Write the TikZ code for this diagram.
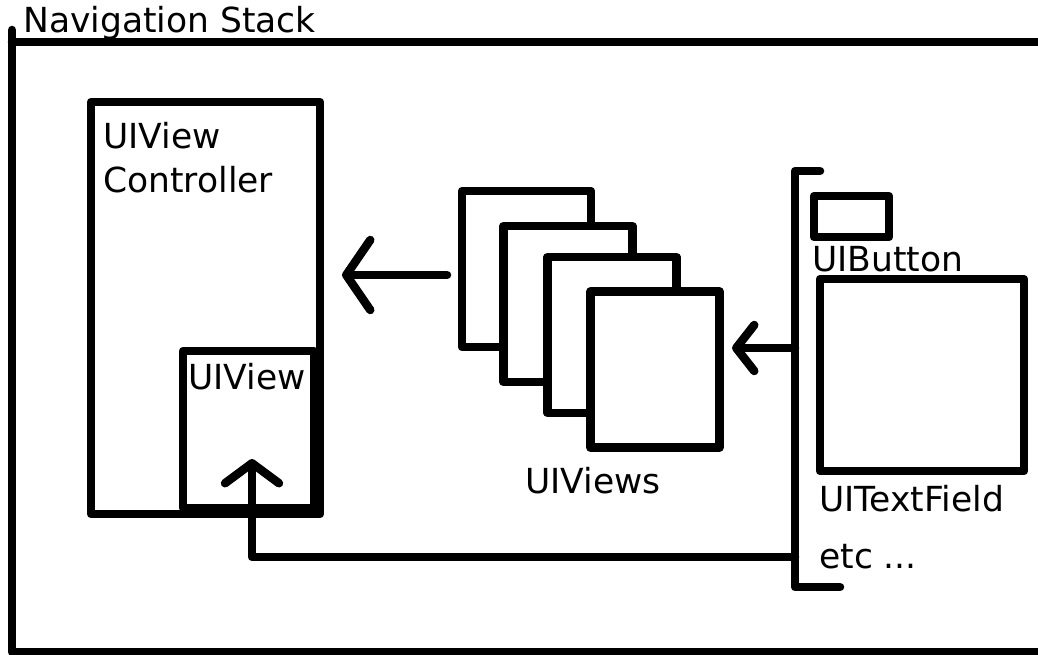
\documentclass[tikz,border=0pt]{standalone}
\usepackage{fontspec}
\setmainfont{DejaVu Sans}
\usetikzlibrary{arrows.meta}
\begin{document}
\begin{tikzpicture}[x=1pt,y=-1pt,line width=8.5pt,line cap=round,line join=round,
  box/.style={draw,fill=white,line width=8.5pt,rectangle,inner sep=0pt,outer sep=0pt},
  vbox/.style={box,minimum width=129pt,minimum height=156pt},
  lbl/.style={font=\fontsize{34.5}{38}\selectfont,inner sep=0pt,anchor=base west},
  bigtip/.style={-{Straight Barb[length=24pt,width=70pt,round]}},
  midtip/.style={-{Straight Barb[length=20pt,width=54pt,round]}},
  smalltip/.style={-{Straight Barb[length=18pt,width=46pt,round]}}]
\clip (0,0) rectangle (1038,655);
\fill[white] (0,0) rectangle (1038,655);
% outer frame
\draw (1050,42) -- (12,42);
\draw (12,30) -- (12,652) -- (1050,652);
\node[lbl] (title) at (19,33) {Navigation Stack};
% controller
\node[box,minimum width=229pt,minimum height=412pt] (ctrl) at (205.5,308) {};
\node[box,minimum width=131pt,minimum height=157pt] (inner) at (248.5,429.5) {};
\node[lbl] (ctrlA) at (99,149) {UIView};
\node[lbl] (ctrlB) at (99,193) {Controller};
\node[lbl] (innerl) at (184,389) {UIView};
% stack of views
\node[vbox] (v1) at (526.5,269) {};
\node[vbox] (v2) at (568,304) {};
\node[vbox] (v3) at (612,335) {};
\node[vbox] (v4) at (655,369.5) {};
\node[lbl] (viewsl) at (521,493) {UIViews};
% bracket with widgets
\coordinate (bt) at (820,171);
\coordinate (btc) at (795,171);
\coordinate (bbc) at (795,587);
\coordinate (bb) at (840,587);
\draw (bt) -- (btc) -- (bbc) -- (bb);
\node[box,minimum width=75pt,minimum height=41pt] (btn) at (851.5,216.5) {};
\node[lbl] (btnl) at (808,271) {UIButton};
\node[box,minimum width=204pt,minimum height=192pt] (tf) at (922,375) {};
\node[lbl] (tfl) at (815,511) {UITextField};
\node[lbl] (etcl) at (815,568) {etc ...};
% connectors
\coordinate (a1s) at (447,275);
\coordinate (a1e) at (342,275);
\draw[bigtip] (a1s) -- (a1e);
\coordinate (a2s) at (795,348);
\coordinate (a2e) at (732,348);
\draw[smalltip] (a2s) -- (a2e);
\coordinate (a3s) at (795,557);
\coordinate (a3m) at (252,557);
\coordinate (a3e) at (252,459);
\draw[midtip] (a3s) -- (a3m) -- (a3e);
\end{tikzpicture}
\end{document}
